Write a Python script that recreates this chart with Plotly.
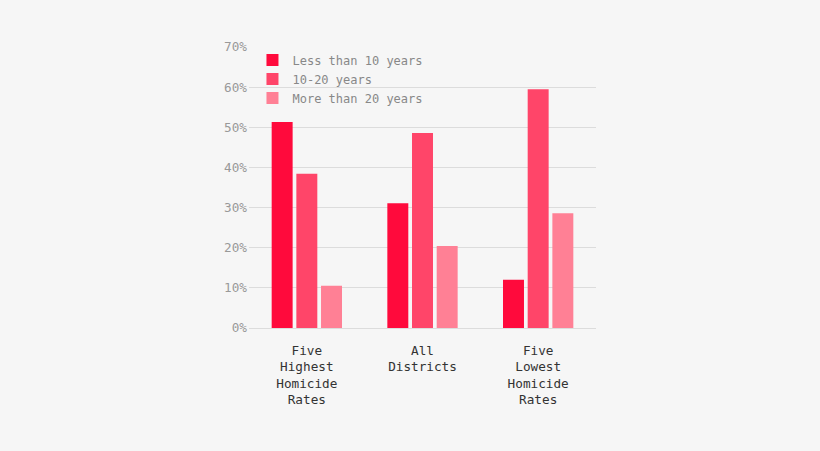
import plotly.graph_objects as go

categories = ["Five<br>Highest<br>Homicide<br>Rates", "All<br>Districts", "Five<br>Lowest<br>Homicide<br>Rates"]
series_names = ["Less than 10 years", "10-20 years", "More than 20 years"]
less_than_10 = [51.3, 31.1, 12.0]
between_10_20 = [38.4, 48.6, 59.5]
more_than_20 = [10.5, 20.4, 28.6]
colors = ["#ff0a3c", "#ff4569", "#ff8095"]

fig = go.Figure()
for name, vals, c in zip(series_names, [less_than_10, between_10_20, more_than_20], colors):
    fig.add_trace(go.Bar(name=name, x=categories, y=vals, marker=dict(color=c, line=dict(width=0))))

font_family = "DejaVu Sans Mono"
fs = 12.7
fig.update_layout(
    width=820, height=451,
    paper_bgcolor="#f6f6f6", plot_bgcolor="#f6f6f6",
    margin=dict(l=249, r=224, t=47, b=123),
    barmode="group", bargap=0.36, bargroupgap=0.15,
    font=dict(family=font_family, size=fs, color="#333"),
    showlegend=True,
    legend=dict(x=0.01, y=1.005, xanchor="left", yanchor="top", bgcolor="rgba(0,0,0,0)",
                font=dict(family=font_family, size=12, color="#888"), tracegroupgap=0),
    xaxis=dict(showgrid=False, showline=False, ticks="", tickfont=dict(color="#333", size=fs),
               ticklabelstandoff=13),
    yaxis=dict(range=[0, 70], dtick=10, ticksuffix="%", gridcolor="#dcdcdc", gridwidth=1,
               zeroline=True, zerolinecolor="#dcdcdc", zerolinewidth=1, showline=False,
               tickfont=dict(color="#999", size=fs), ticklabelstandoff=1),
)
fig.write_html("out.html", config={"displayModeBar": False},
               post_script="document.body.style.margin='0';document.body.style.background='#f6f6f6';")
